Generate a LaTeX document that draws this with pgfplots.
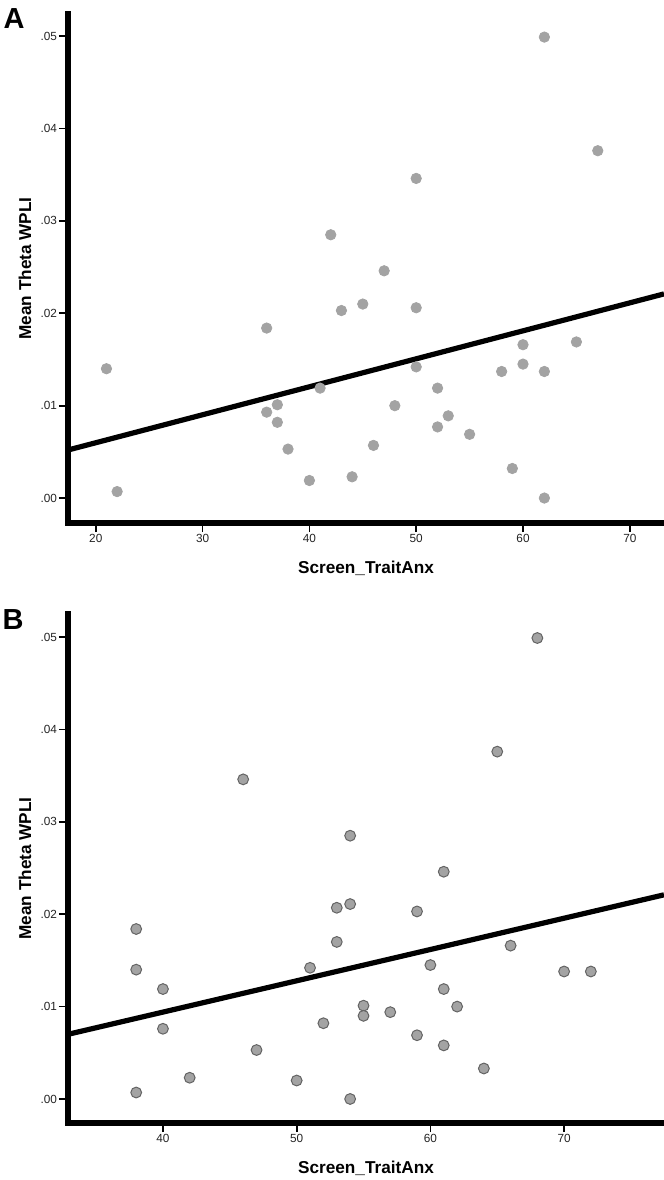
\documentclass[border=0pt]{standalone}
\usepackage{fontspec}
\setmainfont{Liberation Sans}
\usepackage{pgfplots}
\pgfplotsset{compat=1.18}
\usepackage{pgfplotstable}

\definecolor{dotA}{RGB}{163,163,163}
\definecolor{dotB}{RGB}{163,163,163}
\definecolor{edgeB}{RGB}{100,100,100}
\definecolor{tickc}{RGB}{35,35,35}

\pgfplotstableread{
x y
21 0.0140
22 0.0007
36 0.0184
36 0.0093
37 0.0101
37 0.0082
38 0.0053
40 0.0019
41 0.0119
42 0.0285
43 0.0203
44 0.0023
45 0.0210
46 0.0057
47 0.0246
48 0.0100
50 0.0346
50 0.0206
50 0.0142
52 0.0119
52 0.0077
53 0.0089
55 0.0069
58 0.0137
59 0.0032
60 0.0166
60 0.0145
62 0.0499
62 0.0137
62 0.0000
65 0.0169
67 0.0376
}\dataA

\pgfplotstableread{
x y
38 0.0184
38 0.0140
38 0.0007
40 0.0119
40 0.0076
42 0.0023
46 0.0346
47 0.0053
50 0.0020
51 0.0142
52 0.0082
53 0.0207
53 0.0170
54 0.0285
54 0.0211
54 0.0000
55 0.0101
55 0.0090
57 0.0094
59 0.0203
59 0.0069
60 0.0145
61 0.0246
61 0.0119
61 0.0058
62 0.0100
64 0.0033
65 0.0376
66 0.0166
68 0.0499
70 0.0138
72 0.0138
}\dataB

\pgfplotsset{
  spss/.style={
    scale only axis,
    width=298pt, height=254.5pt,
    axis x line=bottom, axis y line=left,
    axis line style={line width=3pt, line cap=rect, -},
    xtick pos=bottom, ytick pos=left,
    tick align=outside,
    major tick length=4.6pt,
    tick style={line width=0.85pt, draw=black},
    minor tick num=0,
    scaled y ticks=false, scaled x ticks=false,
    ytick={0,0.01,0.02,0.03,0.04,0.05},
    yticklabels={.00,.01,.02,.03,.04,.05},
    tick label style={font=\fontsize{5.9}{6.5}\selectfont, text=tickc},
    xticklabel style={inner sep=1pt},
    yticklabel style={inner sep=0.7pt},
    label style={font=\bfseries\fontsize{8.6}{10}\selectfont},
    xlabel={Screen\_TraitAnx},
    ylabel={Mean Theta WPLI},
    x label style={at={(axis description cs:0.5,-0.089)}, anchor=center},
    y label style={at={(axis description cs:-0.0721,0.5)}, anchor=center, rotate=0},
    clip=false,
  }
}

\begin{document}
\begin{tikzpicture}
\useasboundingbox (0,0) rectangle (332pt,590pt);

% Panel A
\begin{axis}[spss, at={(34pt,328.5pt)}, anchor=south west,
  xmin=17.4, xmax=73.2, ymin=-0.0027, ymax=0.0524,
  xtick={20,30,40,50,60,70}, xticklabels={20,30,40,50,60,70}]
  \addplot[only marks, mark=*, mark size=2.6pt, mark options={fill=dotA, draw=dotA}] table[x=x,y=y]{\dataA};
  \addplot[black, line width=2.6pt, no marks] coordinates {(17.4,0.0052) (73.2,0.0221)};
  \pgfplotsinvokeforeach{20,30,40,50,60,70}{
    \draw[line width=0.85pt, black] (axis cs:#1,-0.0027) -- ++(0pt,-4.6pt);}
  \pgfplotsinvokeforeach{0,0.01,0.02,0.03,0.04,0.05}{
    \draw[line width=0.85pt, black] (axis cs:17.4,#1) -- ++(-4.4pt,0pt);}
\end{axis}

% Panel B
\begin{axis}[spss, at={(34pt,28.5pt)}, anchor=south west,
  xmin=32.9, xmax=77.47, ymin=-0.0026, ymax=0.0525,
  xtick={40,50,60,70}, xticklabels={40,50,60,70}]
  \addplot[only marks, mark=*, mark size=2.7pt, mark options={fill=dotB, draw=edgeB, line width=0.5pt}] table[x=x,y=y]{\dataB};
  \addplot[black, line width=2.6pt, no marks] coordinates {(32.9,0.0070) (77.47,0.0221)};
  \pgfplotsinvokeforeach{40,50,60,70}{
    \draw[line width=0.85pt, black] (axis cs:#1,-0.0026) -- ++(0pt,-4.6pt);}
  \pgfplotsinvokeforeach{0,0.01,0.02,0.03,0.04,0.05}{
    \draw[line width=0.85pt, black] (axis cs:32.9,#1) -- ++(-4.4pt,0pt);}
\end{axis}

\node[font=\bfseries\fontsize{14.5}{16}\selectfont, anchor=center] at (7pt,580.5pt) {A};
\node[font=\bfseries\fontsize{14.5}{16}\selectfont, anchor=center] at (6.5pt,280pt) {B};
\end{tikzpicture}
\end{document}
